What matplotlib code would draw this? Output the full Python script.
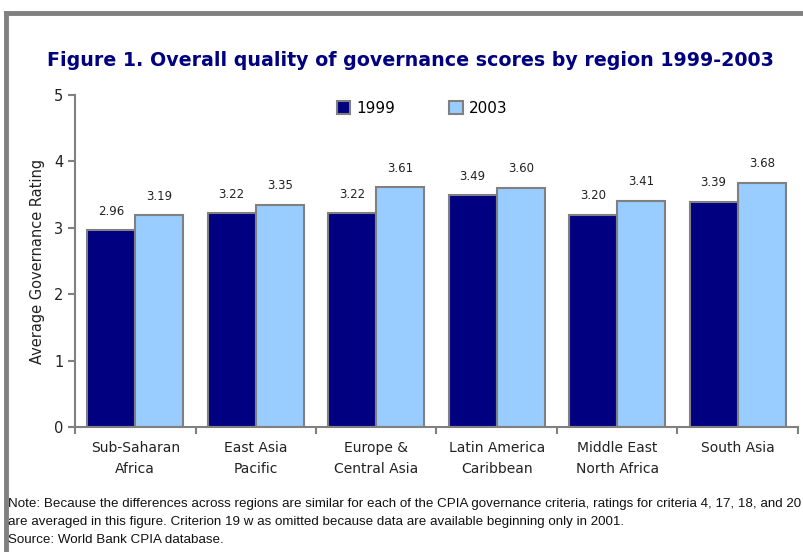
import matplotlib.pyplot as plt
import matplotlib.patches as mpatches
import numpy as np

regions = ["Sub-Saharan\nAfrica", "East Asia\nPacific", "Europe &\nCentral Asia",
           "Latin America\nCaribbean", "Middle East\nNorth Africa", "South Asia"]
scores_1999 = [2.96, 3.22, 3.22, 3.49, 3.20, 3.39]
scores_2003 = [3.19, 3.35, 3.61, 3.60, 3.41, 3.68]
years = ["1999", "2003"]
colors = ["#000080", "#99CCFF"]
edge = "#808080"

note = ("Note: Because the differences across regions are similar for each of the CPIA governance criteria, "
        "ratings for criteria 4, 17, 18, and 20\n"
        "are averaged in this figure. Criterion 19 w as omitted because data are available beginning only in 2001.\n"
        "Source: World Bank CPIA database.")


def draw_chart():
    fig = plt.figure(figsize=(8.04, 5.52), dpi=100)
    ax = fig.add_axes([0.0933, 0.2264, 0.8992, 0.6015])

    x = np.arange(len(regions))
    w = 0.4
    for vals, off, col in [(scores_1999, -w / 2, colors[0]), (scores_2003, w / 2, colors[1])]:
        bars = ax.bar(x + off, vals, width=w, color=col, edgecolor=edge, linewidth=1.5)
        for b, v in zip(bars, vals):
            ax.annotate(f"{v:.2f}", (b.get_x() + b.get_width() / 2, v),
                        xytext=(0, 9), textcoords="offset points",
                        ha="center", va="bottom", fontsize=8.5, color="#222222")

    ax.set_xlim(-0.5, len(regions) - 0.5)
    ax.set_ylim(0, 5)
    ax.set_yticks(range(6))
    ax.set_xticks(x)
    ax.set_xticklabels(regions, fontsize=10, color="#222222", linespacing=1.6)
    ax.set_xticks(np.arange(len(regions) + 1) - 0.5, minor=True)
    ax.tick_params(axis="x", which="major", length=0, pad=10)
    ax.tick_params(axis="x", which="minor", length=5, color=edge, width=1.5)
    ax.tick_params(axis="y", length=5, color=edge, width=1.5, labelsize=10.5, labelcolor="#222222")
    ax.set_ylabel("Average Governance Rating", fontsize=10.5, color="#222222", labelpad=6)

    for side in ["top", "right"]:
        ax.spines[side].set_visible(False)
    for side in ["left", "bottom"]:
        ax.spines[side].set_color(edge)
        ax.spines[side].set_linewidth(1.5)

    handles = [mpatches.Patch(facecolor=c, edgecolor=edge, linewidth=1.5, label=y)
               for c, y in zip(colors, years)]
    ax.legend(handles=handles, loc="center", bbox_to_anchor=(0.48, 0.96), ncol=2,
              frameon=False, fontsize=11, handlelength=0.9, handleheight=0.9,
              handletextpad=0.4, columnspacing=3.5)

    fig.text(0.511, 0.89, "Figure 1. Overall quality of governance scores by region 1999-2003",
             ha="center", va="center", fontsize=13.7, fontweight="bold", color="#000080")
    fig.text(0.01, 0.01, note, ha="left", va="bottom", fontsize=9.6,
             family="Liberation Sans", linespacing=1.68, color="#111111")

    # grey frame on the top and left
    fig.add_artist(plt.Line2D([0.008, 1.0], [0.977, 0.977], color=edge, linewidth=3.5))
    fig.add_artist(plt.Line2D([0.008, 0.008], [0.0, 0.977], color=edge, linewidth=3.5))

    fig.savefig("out.png", dpi=100)


if __name__ == "__main__":
    draw_chart()
